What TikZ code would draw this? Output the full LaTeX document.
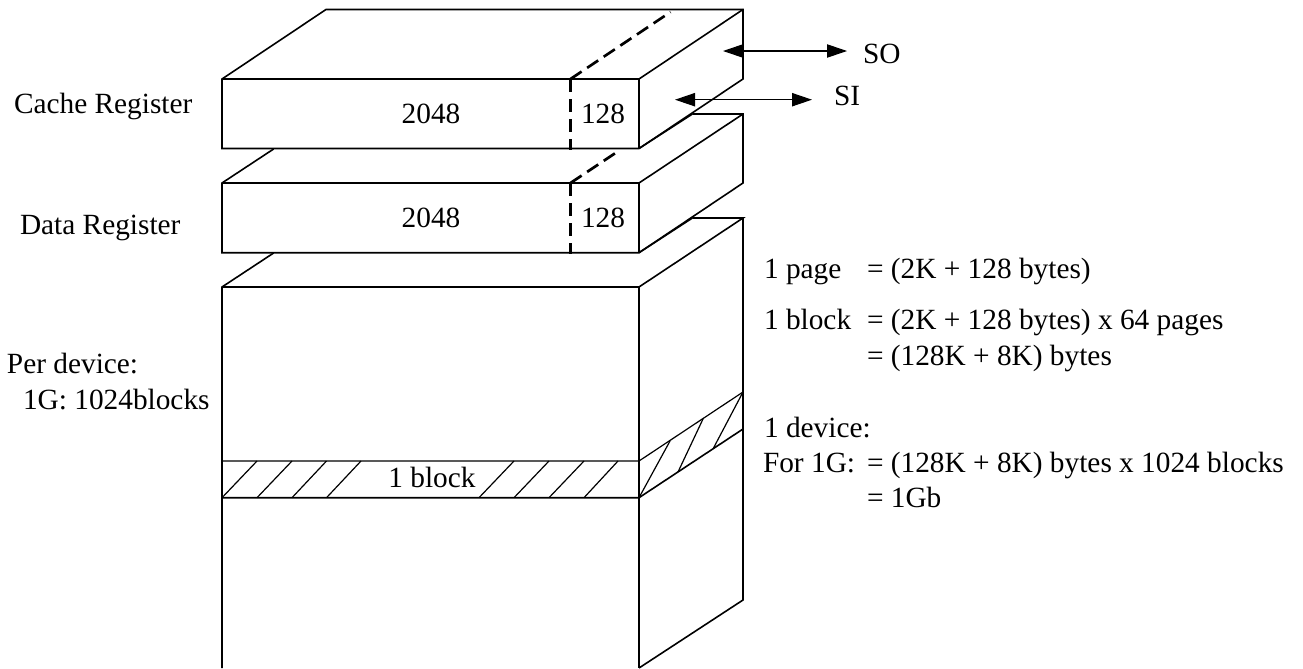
\documentclass[tikz,border=0pt]{standalone}
\usepackage{fontspec}
\setmainfont{Liberation Serif}
\usetikzlibrary{arrows.meta}
\tikzset{
  x=0.75pt,y=-0.75pt,
  edge/.style={draw=black,line width=1.2pt,line join=miter},
  thin edge/.style={draw=black,line width=0.9pt},
  dash edge/.style={draw=black,line width=2pt,dash pattern=on 10pt off 5pt},
  io/.style={draw=black,line width=0.8pt,{Triangle[length=15pt,width=10pt]}-{Triangle[length=15pt,width=10pt]}},
  lbl/.style={anchor=base west,inner sep=0pt,outer sep=0pt,font=\fontsize{22pt}{26pt}\selectfont},
  mid/.style={anchor=base,inner sep=0pt,outer sep=0pt,font=\fontsize{22pt}{26pt}\selectfont},
}
\begin{document}
\begin{tikzpicture}
\useasboundingbox (0,0) rectangle (1303,668);
% top register
\draw[edge] (222,79) -- (326,9.5) -- (743,9.5) -- (743,79) -- (639,148.5) -- (222,148.5) -- cycle;
\draw[edge] (222,79) -- (639,79) -- (743,9.5);
\draw[edge] (639,79) -- (639,148.5);
\draw[dash edge] (570.5,79) -- (670.5,12);
\draw[dash edge] (570.5,79) -- (570.5,150);
% data register
\draw[edge] (273.6,149) -- (222,183) -- (222,252.7) -- (639,252.7) -- (743,183) -- (743,114) -- (692.4,114);
\draw[edge] (222,183) -- (639,183) -- (743,114);
\draw[edge] (639,148.5) -- (692.4,114);
\draw[edge] (639,183) -- (639,252.7);
\draw[dash edge] (570.5,183) -- (617,152);
\draw[dash edge] (570.5,183) -- (570.5,254);
% array
\draw[edge] (273.6,253) -- (222,287) -- (222,668);
\draw[edge] (222,287) -- (639,287) -- (743,218) -- (692.4,218);
\draw[edge] (639,252.7) -- (692.4,218);
\draw[edge] (743,218) -- (743,600) -- (639,668);
\draw[edge] (639,287) -- (639,668);
% block band
\draw[thin edge] (222,461) -- (639,461) -- (743,392);
\draw[edge] (222,497.7) -- (639,497.7) -- (743,429);
\foreach \a/\b in {222/257,257/292,292/326.5,326.5/361,479/514,514/549,549/584,584/618}
  \draw[thin edge] (\a,497.7) -- (\b,461);
\draw[thin edge] (639,497.7) -- (670,441);
\draw[thin edge] (678,472) -- (703,419);
\draw[thin edge] (713.5,448) -- (743,392);
% arrows
\coordinate (soa) at (723,51);
\coordinate (sob) at (847,51);
\coordinate (sia) at (675,99.7);
\coordinate (sib) at (812,99.7);
\draw[io] (soa) -- (sob);
\draw[io] (sia) -- (sib);
% labels
\node[lbl] (so) at (863,63) {SO};
\node[lbl] (si) at (834,105) {SI};
\node[mid] (a1) at (431,123) {2048};
\node[mid] (a2) at (603,123) {128};
\node[mid] (b1) at (431,227) {2048};
\node[mid] (b2) at (603,227) {128};
\node[mid] (blk) at (432,487) {1 block};
\node[lbl] (cr) at (14,113) {Cache Register};
\node[lbl] (dr) at (20,234) {Data Register};
\node[lbl] (pd) at (7,373) {Per device:};
\node[lbl] (gb) at (23,409) {1G: 1024blocks};
\node[lbl] (t1) at (764,278) {1 page};
\node[lbl] (t1b) at (867,278) {= (2K + 128 bytes)};
\node[lbl] (t2) at (764,329) {1 block};
\node[lbl] (t2b) at (867,329) {= (2K + 128 bytes) x 64 pages};
\node[lbl] (t3) at (867,365) {= (128K + 8K) bytes};
\node[lbl] (t4) at (764,437) {1 device:};
\node[lbl] (t5) at (763,472) {For 1G:};
\node[lbl] (t5b) at (867,472) {= (128K + 8K) bytes x 1024 blocks};
\node[lbl] (t6) at (867,507) {= 1Gb};
\end{tikzpicture}
\end{document}
